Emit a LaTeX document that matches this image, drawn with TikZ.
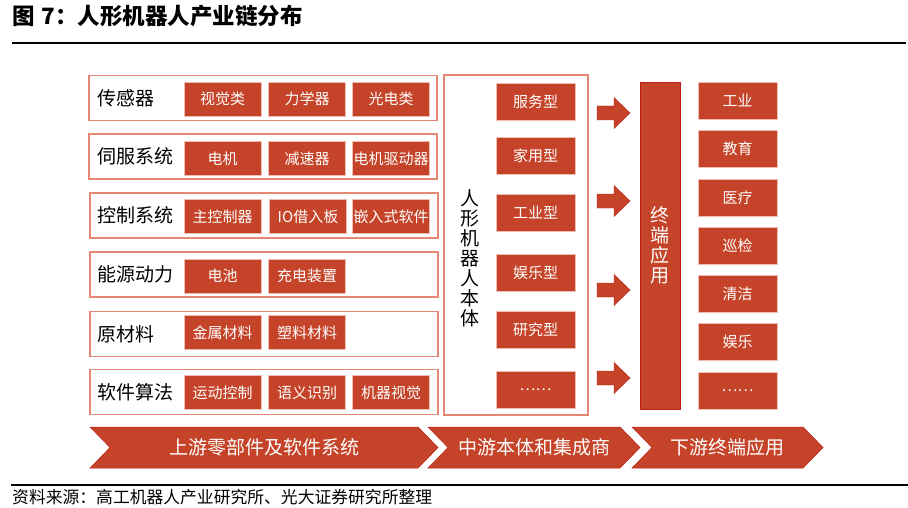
\documentclass[tikz,border=0pt]{standalone}
\usepackage{fontspec}
\setmainfont{Noto Sans CJK SC}
\usetikzlibrary{positioning}
\definecolor{brick}{RGB}{197,67,40}
\definecolor{brickdark}{RGB}{190,30,20}
\definecolor{salmon}{RGB}{228,135,115}
\definecolor{pinkedge}{RGB}{240,190,180}
\tikzset{
  grp/.style={draw=salmon, line width=1.3pt, minimum width=348pt, minimum height=45pt, inner sep=0pt},
  lbl/.style={anchor=west, inner sep=0pt, font=\fontsize{19}{19}\selectfont},
  item/.style={fill=brick, draw=pinkedge, line width=0.6pt, text=white, minimum width=77pt, minimum height=34pt, inner sep=0pt, font=\fontsize{15}{15}\selectfont},
  mitem/.style={item, minimum width=79pt, minimum height=37pt},
  vtext/.style={align=center, inner sep=0pt, font=\fontsize{19}{20}\selectfont},
  chev/.style={fill=brick, draw=brickdark, line width=0.5pt},
  chevtext/.style={text=white, inner sep=0pt, font=\fontsize{19}{19}\selectfont},
  blockarrow/.style={fill=brick, draw=brickdark, line width=0.4pt},
}
\begin{document}
\begin{tikzpicture}[x=1pt,y=-1pt]
\useasboundingbox (0,0) rectangle (908,508);
% title
\node[anchor=west, inner sep=0pt, font=\fontsize{22.5}{22.5}\selectfont\bfseries] (title) at (12,16) {图\hspace{7pt}7：人形机器人产业链分布};
\draw[line width=2.3pt] (12,43) coordinate (tl) -- (906,43) coordinate (tr);
% left groups
\node[grp] (g1) at (263,98) {};
\node[grp] (g2) at (263,156.5) {};
\node[grp] (g3) at (264,215.5) {};
\node[grp] (g4) at (264,274.5) {};
\node[grp] (g5) at (264,334) {};
\node[grp] (g6) at (264,392) {};
\node[lbl] (l1) at (97,98) {传感器};
\node[lbl] (l2) at (97,156.5) {伺服系统};
\node[lbl] (l3) at (97,215.5) {控制系统};
\node[lbl] (l4) at (97,274.5) {能源动力};
\node[lbl] (l5) at (97,334) {原材料};
\node[lbl] (l6) at (97,392) {软件算法};
% items
\node[item] (a11) at (222.5,99) {视觉类};
\node[item] (a12) at (307,99) {力学器};
\node[item] (a13) at (391,99) {光电类};
\node[item] (a21) at (222.5,158.5) {电机};
\node[item] (a22) at (307,158.5) {减速器};
\node[item] (a23) at (391,158.5) {电机驱动器};
\node[item] (a31) at (222.5,216.5) {主控制器};
\node[item] (a32) at (308,216.5) {IO借入板};
\node[item] (a33) at (391,216.5) {嵌入式软件};
\node[item] (a41) at (222.5,276) {电池};
\node[item] (a42) at (307,276) {充电装置};
\node[item] (a51) at (222.5,332.5) {金属材料};
\node[item] (a52) at (307,332.5) {塑料材料};
\node[item] (a61) at (222.5,392.5) {运动控制};
\node[item] (a62) at (307,392.5) {语义识别};
\node[item] (a63) at (391,392.5) {机器视觉};
% middle body
\node[draw=salmon, line width=1.3pt, minimum width=144pt, minimum height=340pt, inner sep=0pt] (mid) at (516,245) {};
\node[vtext] (midt) at (470,258.5) {人\\形\\机\\器\\人\\本\\体};
\node[mitem] (m1) at (535.5,101.5) {服务型};
\node[mitem] (m2) at (535.5,155.5) {家用型};
\node[mitem] (m3) at (535.5,212.5) {工业型};
\node[mitem] (m4) at (535.5,272.5) {娱乐型};
\node[mitem] (m5) at (535.5,329.5) {研究型};
\node[mitem] (m6) at (535.5,389.5) {……};
% block arrows
\foreach \yy in {113,201,290,378}{
  \draw[blockarrow] (597,\yy-7) -- (614,\yy-7) -- (614,\yy-15.5) -- (630,\yy) -- (614,\yy+15.5) -- (614,\yy+7) -- (597,\yy+7) -- cycle;
}
% terminal bar
\node[fill=brick, draw=brickdark, line width=0.8pt, minimum width=40pt, minimum height=327pt, inner sep=0pt] (bar) at (660,245.5) {};
\node[vtext, text=white] (bart) at (660,245) {终\\端\\应\\用};
% right items
\node[mitem] (r1) at (737.5,100.5) {工业};
\node[mitem] (r2) at (737.5,149) {教育};
\node[mitem] (r3) at (737.5,197.5) {医疗};
\node[mitem] (r4) at (737.5,246) {巡检};
\node[mitem] (r5) at (737.5,294) {清洁};
\node[mitem] (r6) at (737.5,342) {娱乐};
\node[mitem] (r7) at (737.5,390.5) {……};
% chevrons
\draw[chev] (90,427) -- (418,427) -- (438,447.5) -- (418,468) -- (90,468) -- (110,447.5) -- cycle;
\draw[chev] (428,427) -- (620,427) -- (640,447.5) -- (620,468) -- (428,468) -- (448,447.5) -- cycle;
\draw[chev] (632,427) -- (803,427) -- (823,447.5) -- (803,468) -- (632,468) -- (652,447.5) -- cycle;
\node[chevtext] (c1) at (264,447.5) {上游零部件及软件系统};
\node[chevtext] (c2) at (534,447.5) {中游本体和集成商};
\node[chevtext] (c3) at (727.5,447.5) {下游终端应用};
% bottom line and source
\draw[line width=2pt] (11,485) coordinate (bl) -- (908,485) coordinate (br);
\node[anchor=west, inner sep=0pt, font=\fontsize{16.8}{16.8}\selectfont] (src) at (12,497) {资料来源：高工机器人产业研究所、光大证券研究所整理};
\end{tikzpicture}
\end{document}
